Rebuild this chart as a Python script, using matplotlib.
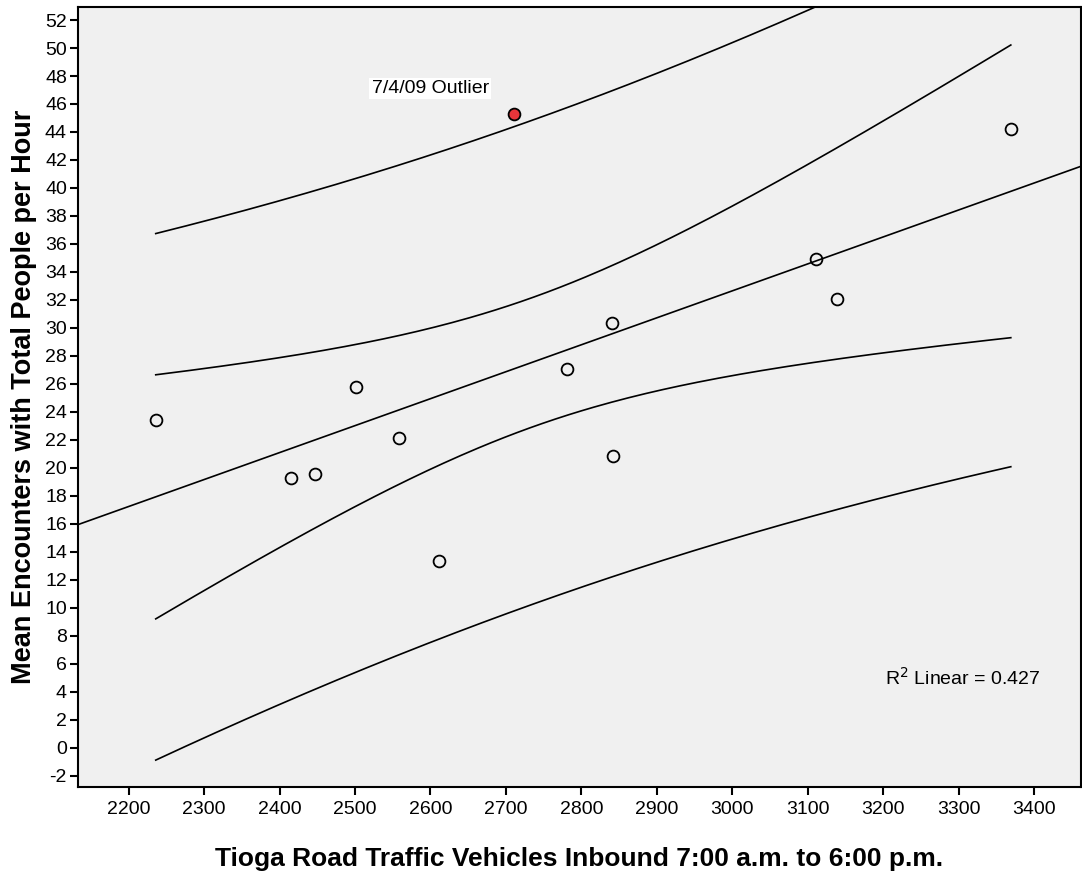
import numpy as np
import matplotlib
matplotlib.use("Agg")
import matplotlib.pyplot as plt

plt.rcParams["font.family"] = ["Liberation Sans", "DejaVu Sans"]
plt.rcParams["axes.unicode_minus"] = False

# Daily observations: inbound vehicles vs. mean encounters per hour
vehicles = [2236, 2415, 2447, 2501, 2558, 2611, 2711, 2781, 2840, 2842, 3111, 3139, 3369]
encounters = [23.4, 19.3, 19.55, 25.8, 22.1, 13.36, 45.26, 27.07, 30.34, 20.86, 34.9, 32.07, 44.19]
outlier_idx = 6
outlier_label = "7/4/09 Outlier"
r2_label = "0.427"
T_975_DF11 = 2.201  # two-sided 95% t quantile, n - 2 = 11 df

x = np.asarray(vehicles, dtype=float)
y = np.asarray(encounters, dtype=float)
n = len(x)

# least squares fit + 95% intervals
xbar = x.mean()
sxx = ((x - xbar) ** 2).sum()
b = ((x - xbar) * (y - y.mean())).sum() / sxx
a = y.mean() - b * xbar
s = np.sqrt(((y - (a + b * x)) ** 2).sum() / (n - 2))

xlim = (2133, 3462)
ylim = (-2.8, 52.93)
xs = np.linspace(x.min(), x.max(), 200)
yhat = a + b * xs
h = 1 / n + (xs - xbar) ** 2 / sxx
ci = T_975_DF11 * s * np.sqrt(h)
pi = T_975_DF11 * s * np.sqrt(1 + h)

fig = plt.figure(figsize=(10.82, 8.74), dpi=100)
ax = fig.add_axes([78 / 1082, 87 / 874, 1003 / 1082, 780 / 874])
ax.set_facecolor("#f0f0f0")

line_kw = dict(color="black", lw=1.2, zorder=2)
ax.plot(xlim, [a + b * xlim[0], a + b * xlim[1]], **line_kw)
for band in (ci, pi):
    ax.plot(xs, yhat + band, **line_kw)
    ax.plot(xs, yhat - band, **line_kw)

normal = np.arange(n) != outlier_idx
ax.plot(x[normal], y[normal], "o", ms=8.5, mfc="none", mec="black", mew=1.3, zorder=3)
ax.plot(x[outlier_idx], y[outlier_idx], "o", ms=8.5, mfc="#e8353a", mec="black",
        mew=1.3, zorder=3)

ax.text(2522, 47.1, outlier_label, fontsize=14, va="center", ha="left",
        bbox=dict(facecolor="white", edgecolor="none", pad=1.5))
ax.text(3202, 5.0, r"R$^2$ Linear = " + r2_label, fontsize=14, va="center", ha="left")

ax.set_xlim(*xlim)
ax.set_ylim(*ylim)
ax.set_xticks(np.arange(2200, 3401, 100))
ax.set_yticks(np.arange(-2, 53, 2))
ax.tick_params(direction="out", length=6, width=1.5, labelsize=14, pad=2)
ax.tick_params(axis="x", pad=4)
for sp in ax.spines.values():
    sp.set_linewidth(1.5)

ax.set_xlabel("Tioga Road Traffic Vehicles Inbound 7:00 a.m. to 6:00 p.m.",
              fontsize=19, fontweight="bold", labelpad=21)
ax.set_ylabel("Mean Encounters with Total People per Hour",
              fontsize=19.5, fontweight="bold", labelpad=6)

fig.savefig("out.png", dpi=100)
